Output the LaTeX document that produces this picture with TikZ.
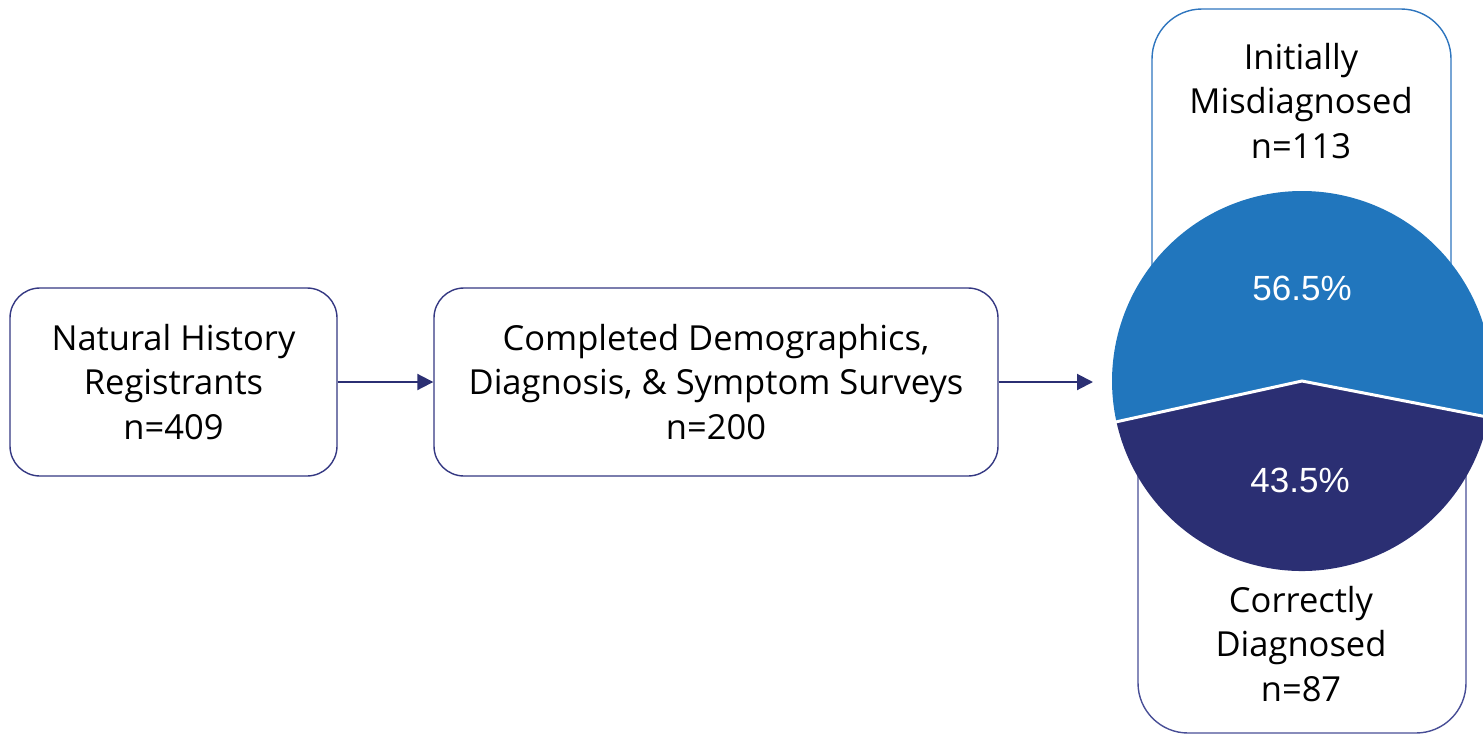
\documentclass[tikz,border=0pt]{standalone}
\usepackage{fontspec}
\setmainfont{Open Sans}
\newfontfamily\pctfont{Liberation Sans}
\usetikzlibrary{arrows.meta,calc}
\definecolor{navy}{RGB}{43,47,115}
\definecolor{boxnavy}{RGB}{52,56,130}
\definecolor{lblue}{RGB}{33,118,189}
\definecolor{bstroke}{RGB}{46,117,190}
\definecolor{botstroke}{RGB}{72,78,150}
\tikzset{
  flowbox/.style={draw=boxnavy, line width=1.4pt, rounded corners=30pt, fill=white,
    align=center, inner sep=0pt, minimum height=188pt},
  txt/.style={font=\fontsize{34.5}{44.5}\selectfont},
  lbl/.style={align=center, txt, inner sep=0pt},
  pct/.style={text=white, font=\pctfont\fontsize{35}{40}\selectfont, inner sep=0pt},
  flowarrow/.style={draw=navy, line width=2pt, -{Triangle[length=16pt,width=16pt]}},
}
\begin{document}
\begin{tikzpicture}[x=1pt,y=-1pt]
\useasboundingbox (0,0) rectangle (1483,734);
% left boxes
\node[flowbox, minimum width=327pt, txt] (reg) at (173.5,382) {Natural History\\Registrants\\n=409};
\node[flowbox, minimum width=564pt, txt] (comp) at (716,382) {Completed Demographics,\\Diagnosis, \& Symptom Surveys\\n=200};
\coordinate (pieleft) at (1093,382);
\draw[flowarrow] (reg.east) -- (comp.west);
\draw[flowarrow] (comp.east) -- (pieleft);
% outcome boxes (behind pie)
\draw[draw=bstroke, line width=1.4pt, rounded corners=50pt] (1152,9) rectangle (1451,450);
\draw[draw=botstroke, line width=1.4pt, rounded corners=50pt] (1138,320) rectangle (1466,733);
% pie
\coordinate (C) at (1302,381);
\begin{scope}
\clip (0,0) rectangle (1483,734);
\fill[lblue] (C) -- ++(-11:190pt) arc[start angle=-11, end angle=192.4, radius=190pt] -- cycle;
\fill[navy] (C) -- ++(192.4:190pt) arc[start angle=192.4, end angle=349, radius=190pt] -- cycle;
\draw[white, line width=3pt] ($(C)+(192.4:192pt)$) -- (C) -- ($(C)+(-11:192pt)$);
\end{scope}
% labels
\node[lbl] (mis) at (1301,101) {Initially\\Misdiagnosed\\n=113};
\node[lbl] (cor) at (1301,644) {Correctly\\Diagnosed\\n=87};
\node[pct] (p1) at (1302,288) {56.5\%};
\node[pct] (p2) at (1300,480) {43.5\%};
\end{tikzpicture}
\end{document}
